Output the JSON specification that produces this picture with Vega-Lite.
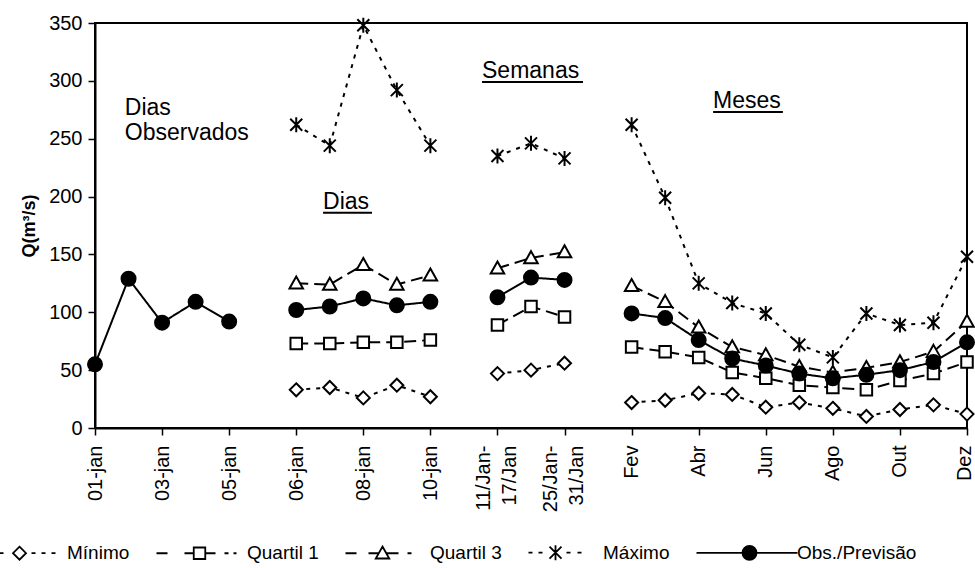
{
  "$schema": "https://vega.github.io/schema/vega-lite/v6.json",
  "width": 872,
  "height": 405,
  "autosize": {"type": "none"},
  "padding": {"left": 95, "top": 23, "right": 8, "bottom": 140},
  "background": "white",
  "config": {
    "font": "Liberation Sans",
    "view": {"stroke": "black", "strokeWidth": 2},
    "axis": {"grid": false, "domainColor": "black", "domainWidth": 2, "tickColor": "black", "tickWidth": 1.5, "labelColor": "black", "titleColor": "black", "labelFont": "Liberation Sans", "titleFont": "Liberation Sans"}
  },
  "datasets": {
    "vazoes": [
      {"periodo": "01-jan", "ordem": 0, "grupo": "Observados", "serie": "Obs./Previsão", "vazao": 55},
      {"periodo": "02-jan", "ordem": 1, "grupo": "Observados", "serie": "Obs./Previsão", "vazao": 129},
      {"periodo": "03-jan", "ordem": 2, "grupo": "Observados", "serie": "Obs./Previsão", "vazao": 91},
      {"periodo": "04-jan", "ordem": 3, "grupo": "Observados", "serie": "Obs./Previsão", "vazao": 109},
      {"periodo": "05-jan", "ordem": 4, "grupo": "Observados", "serie": "Obs./Previsão", "vazao": 92},

      {"periodo": "06-jan", "ordem": 6, "grupo": "Dias", "serie": "Mínimo", "vazao": 33},
      {"periodo": "07-jan", "ordem": 7, "grupo": "Dias", "serie": "Mínimo", "vazao": 35},
      {"periodo": "08-jan", "ordem": 8, "grupo": "Dias", "serie": "Mínimo", "vazao": 26},
      {"periodo": "09-jan", "ordem": 9, "grupo": "Dias", "serie": "Mínimo", "vazao": 37},
      {"periodo": "10-jan", "ordem": 10, "grupo": "Dias", "serie": "Mínimo", "vazao": 27},
      {"periodo": "06-jan", "ordem": 6, "grupo": "Dias", "serie": "Quartil 1", "vazao": 73},
      {"periodo": "07-jan", "ordem": 7, "grupo": "Dias", "serie": "Quartil 1", "vazao": 73},
      {"periodo": "08-jan", "ordem": 8, "grupo": "Dias", "serie": "Quartil 1", "vazao": 74},
      {"periodo": "09-jan", "ordem": 9, "grupo": "Dias", "serie": "Quartil 1", "vazao": 74},
      {"periodo": "10-jan", "ordem": 10, "grupo": "Dias", "serie": "Quartil 1", "vazao": 76},
      {"periodo": "06-jan", "ordem": 6, "grupo": "Dias", "serie": "Quartil 3", "vazao": 125},
      {"periodo": "07-jan", "ordem": 7, "grupo": "Dias", "serie": "Quartil 3", "vazao": 124},
      {"periodo": "08-jan", "ordem": 8, "grupo": "Dias", "serie": "Quartil 3", "vazao": 141},
      {"periodo": "09-jan", "ordem": 9, "grupo": "Dias", "serie": "Quartil 3", "vazao": 124},
      {"periodo": "10-jan", "ordem": 10, "grupo": "Dias", "serie": "Quartil 3", "vazao": 132},
      {"periodo": "06-jan", "ordem": 6, "grupo": "Dias", "serie": "Máximo", "vazao": 262},
      {"periodo": "07-jan", "ordem": 7, "grupo": "Dias", "serie": "Máximo", "vazao": 244},
      {"periodo": "08-jan", "ordem": 8, "grupo": "Dias", "serie": "Máximo", "vazao": 348},
      {"periodo": "09-jan", "ordem": 9, "grupo": "Dias", "serie": "Máximo", "vazao": 292},
      {"periodo": "10-jan", "ordem": 10, "grupo": "Dias", "serie": "Máximo", "vazao": 244},
      {"periodo": "06-jan", "ordem": 6, "grupo": "Dias", "serie": "Obs./Previsão", "vazao": 102},
      {"periodo": "07-jan", "ordem": 7, "grupo": "Dias", "serie": "Obs./Previsão", "vazao": 105},
      {"periodo": "08-jan", "ordem": 8, "grupo": "Dias", "serie": "Obs./Previsão", "vazao": 112},
      {"periodo": "09-jan", "ordem": 9, "grupo": "Dias", "serie": "Obs./Previsão", "vazao": 106},
      {"periodo": "10-jan", "ordem": 10, "grupo": "Dias", "serie": "Obs./Previsão", "vazao": 109},

      {"periodo": "11/Jan-17/Jan", "ordem": 12, "grupo": "Semanas", "serie": "Mínimo", "vazao": 47},
      {"periodo": "18/Jan-24/Jan", "ordem": 13, "grupo": "Semanas", "serie": "Mínimo", "vazao": 50},
      {"periodo": "25/Jan-31/Jan", "ordem": 14, "grupo": "Semanas", "serie": "Mínimo", "vazao": 56},
      {"periodo": "11/Jan-17/Jan", "ordem": 12, "grupo": "Semanas", "serie": "Quartil 1", "vazao": 89},
      {"periodo": "18/Jan-24/Jan", "ordem": 13, "grupo": "Semanas", "serie": "Quartil 1", "vazao": 105},
      {"periodo": "25/Jan-31/Jan", "ordem": 14, "grupo": "Semanas", "serie": "Quartil 1", "vazao": 96},
      {"periodo": "11/Jan-17/Jan", "ordem": 12, "grupo": "Semanas", "serie": "Quartil 3", "vazao": 138},
      {"periodo": "18/Jan-24/Jan", "ordem": 13, "grupo": "Semanas", "serie": "Quartil 3", "vazao": 147},
      {"periodo": "25/Jan-31/Jan", "ordem": 14, "grupo": "Semanas", "serie": "Quartil 3", "vazao": 152},
      {"periodo": "11/Jan-17/Jan", "ordem": 12, "grupo": "Semanas", "serie": "Máximo", "vazao": 235},
      {"periodo": "18/Jan-24/Jan", "ordem": 13, "grupo": "Semanas", "serie": "Máximo", "vazao": 246},
      {"periodo": "25/Jan-31/Jan", "ordem": 14, "grupo": "Semanas", "serie": "Máximo", "vazao": 233},
      {"periodo": "11/Jan-17/Jan", "ordem": 12, "grupo": "Semanas", "serie": "Obs./Previsão", "vazao": 113},
      {"periodo": "18/Jan-24/Jan", "ordem": 13, "grupo": "Semanas", "serie": "Obs./Previsão", "vazao": 130},
      {"periodo": "25/Jan-31/Jan", "ordem": 14, "grupo": "Semanas", "serie": "Obs./Previsão", "vazao": 128},

      {"periodo": "Fev", "ordem": 16, "grupo": "Meses", "serie": "Mínimo", "vazao": 22},
      {"periodo": "Mar", "ordem": 17, "grupo": "Meses", "serie": "Mínimo", "vazao": 24},
      {"periodo": "Abr", "ordem": 18, "grupo": "Meses", "serie": "Mínimo", "vazao": 30},
      {"periodo": "Mai", "ordem": 19, "grupo": "Meses", "serie": "Mínimo", "vazao": 29},
      {"periodo": "Jun", "ordem": 20, "grupo": "Meses", "serie": "Mínimo", "vazao": 18},
      {"periodo": "Jul", "ordem": 21, "grupo": "Meses", "serie": "Mínimo", "vazao": 22},
      {"periodo": "Ago", "ordem": 22, "grupo": "Meses", "serie": "Mínimo", "vazao": 17},
      {"periodo": "Set", "ordem": 23, "grupo": "Meses", "serie": "Mínimo", "vazao": 10},
      {"periodo": "Out", "ordem": 24, "grupo": "Meses", "serie": "Mínimo", "vazao": 16},
      {"periodo": "Nov", "ordem": 25, "grupo": "Meses", "serie": "Mínimo", "vazao": 20},
      {"periodo": "Dez", "ordem": 26, "grupo": "Meses", "serie": "Mínimo", "vazao": 12},
      {"periodo": "Fev", "ordem": 16, "grupo": "Meses", "serie": "Quartil 1", "vazao": 70},
      {"periodo": "Mar", "ordem": 17, "grupo": "Meses", "serie": "Quartil 1", "vazao": 66},
      {"periodo": "Abr", "ordem": 18, "grupo": "Meses", "serie": "Quartil 1", "vazao": 61},
      {"periodo": "Mai", "ordem": 19, "grupo": "Meses", "serie": "Quartil 1", "vazao": 48},
      {"periodo": "Jun", "ordem": 20, "grupo": "Meses", "serie": "Quartil 1", "vazao": 43},
      {"periodo": "Jul", "ordem": 21, "grupo": "Meses", "serie": "Quartil 1", "vazao": 37},
      {"periodo": "Ago", "ordem": 22, "grupo": "Meses", "serie": "Quartil 1", "vazao": 35},
      {"periodo": "Set", "ordem": 23, "grupo": "Meses", "serie": "Quartil 1", "vazao": 33},
      {"periodo": "Out", "ordem": 24, "grupo": "Meses", "serie": "Quartil 1", "vazao": 41},
      {"periodo": "Nov", "ordem": 25, "grupo": "Meses", "serie": "Quartil 1", "vazao": 47},
      {"periodo": "Dez", "ordem": 26, "grupo": "Meses", "serie": "Quartil 1", "vazao": 57},
      {"periodo": "Fev", "ordem": 16, "grupo": "Meses", "serie": "Quartil 3", "vazao": 123},
      {"periodo": "Mar", "ordem": 17, "grupo": "Meses", "serie": "Quartil 3", "vazao": 109},
      {"periodo": "Abr", "ordem": 18, "grupo": "Meses", "serie": "Quartil 3", "vazao": 87},
      {"periodo": "Mai", "ordem": 19, "grupo": "Meses", "serie": "Quartil 3", "vazao": 70},
      {"periodo": "Jun", "ordem": 20, "grupo": "Meses", "serie": "Quartil 3", "vazao": 63},
      {"periodo": "Jul", "ordem": 21, "grupo": "Meses", "serie": "Quartil 3", "vazao": 53},
      {"periodo": "Ago", "ordem": 22, "grupo": "Meses", "serie": "Quartil 3", "vazao": 48},
      {"periodo": "Set", "ordem": 23, "grupo": "Meses", "serie": "Quartil 3", "vazao": 52},
      {"periodo": "Out", "ordem": 24, "grupo": "Meses", "serie": "Quartil 3", "vazao": 57},
      {"periodo": "Nov", "ordem": 25, "grupo": "Meses", "serie": "Quartil 3", "vazao": 66},
      {"periodo": "Dez", "ordem": 26, "grupo": "Meses", "serie": "Quartil 3", "vazao": 92},
      {"periodo": "Fev", "ordem": 16, "grupo": "Meses", "serie": "Máximo", "vazao": 262},
      {"periodo": "Mar", "ordem": 17, "grupo": "Meses", "serie": "Máximo", "vazao": 199},
      {"periodo": "Abr", "ordem": 18, "grupo": "Meses", "serie": "Máximo", "vazao": 125},
      {"periodo": "Mai", "ordem": 19, "grupo": "Meses", "serie": "Máximo", "vazao": 108},
      {"periodo": "Jun", "ordem": 20, "grupo": "Meses", "serie": "Máximo", "vazao": 99},
      {"periodo": "Jul", "ordem": 21, "grupo": "Meses", "serie": "Máximo", "vazao": 72},
      {"periodo": "Ago", "ordem": 22, "grupo": "Meses", "serie": "Máximo", "vazao": 61},
      {"periodo": "Set", "ordem": 23, "grupo": "Meses", "serie": "Máximo", "vazao": 99},
      {"periodo": "Out", "ordem": 24, "grupo": "Meses", "serie": "Máximo", "vazao": 89},
      {"periodo": "Nov", "ordem": 25, "grupo": "Meses", "serie": "Máximo", "vazao": 91},
      {"periodo": "Dez", "ordem": 26, "grupo": "Meses", "serie": "Máximo", "vazao": 148},
      {"periodo": "Fev", "ordem": 16, "grupo": "Meses", "serie": "Obs./Previsão", "vazao": 99},
      {"periodo": "Mar", "ordem": 17, "grupo": "Meses", "serie": "Obs./Previsão", "vazao": 95},
      {"periodo": "Abr", "ordem": 18, "grupo": "Meses", "serie": "Obs./Previsão", "vazao": 76},
      {"periodo": "Mai", "ordem": 19, "grupo": "Meses", "serie": "Obs./Previsão", "vazao": 60},
      {"periodo": "Jun", "ordem": 20, "grupo": "Meses", "serie": "Obs./Previsão", "vazao": 54},
      {"periodo": "Jul", "ordem": 21, "grupo": "Meses", "serie": "Obs./Previsão", "vazao": 47},
      {"periodo": "Ago", "ordem": 22, "grupo": "Meses", "serie": "Obs./Previsão", "vazao": 43},
      {"periodo": "Set", "ordem": 23, "grupo": "Meses", "serie": "Obs./Previsão", "vazao": 46},
      {"periodo": "Out", "ordem": 24, "grupo": "Meses", "serie": "Obs./Previsão", "vazao": 50},
      {"periodo": "Nov", "ordem": 25, "grupo": "Meses", "serie": "Obs./Previsão", "vazao": 57},
      {"periodo": "Dez", "ordem": 26, "grupo": "Meses", "serie": "Obs./Previsão", "vazao": 74}
    ],
    "notas": [
      {"texto": "Dias\nObservados", "x": 0.89, "y": 270.5},
      {"texto": "Dias", "x": 6.8, "y": 189, "x_fim": 8.26, "y_sub": 186},
      {"texto": "Semanas", "x": 11.54, "y": 302.5, "x_fim": 14.55, "y_sub": 299},
      {"texto": "Meses", "x": 18.43, "y": 276.5, "x_fim": 20.51, "y_sub": 273}
    ]
  },
  "layer": [
    {
      "data": {"name": "vazoes"},
      "mark": {"type": "line", "color": "black"},
      "encoding": {
        "x": {
          "field": "ordem", "type": "quantitative",
          "scale": {"domain": [0, 26], "nice": false, "zero": false},
          "axis": {
            "title": null,
            "values": [0,1,2,3,4,5,6,7,8,9,10,11,12,13,14,15,16,17,18,19,20,21,22,23,24,25,26],
            "labelExpr": "['01-jan','','03-jan','','05-jan','','06-jan','','08-jan','','10-jan','',['11/Jan-','17/Jan'],'',['25/Jan-','31/Jan'],'','Fev','','Abr','','Jun','','Ago','','Out','','Dez'][datum.value]",
            "labelAngle": -90,
            "labelFontSize": 20,
            "labelLineHeight": 26,
            "labelPadding": 10,
            "labelOffset": {"condition": [{"test": "datum.value == 12 || datum.value == 14", "value": -14}, {"test": "datum.value == 26", "value": -3}], "value": 0},
            "tickSize": 7,
            "labelOverlap": false,
            "labelFlush": false,
            "labelBound": false
          }
        },
        "y": {
          "field": "vazao", "type": "quantitative",
          "scale": {"domain": [0, 350], "nice": false},
          "axis": {
            "title": "Q(m³/s)",
            "values": [0, 50, 100, 150, 200, 250, 300, 350],
            "labelFontSize": 20,
            "titleFontSize": 18,
            "titleFontWeight": "bold",
            "tickSize": 7,
            "labelPadding": 6,
            "titlePadding": 10
          }
        },
        "detail": {"field": "grupo"},
        "strokeDash": {
          "field": "serie", "type": "nominal",
          "scale": {"domain": ["Mínimo", "Quartil 1", "Quartil 3", "Máximo", "Obs./Previsão"], "range": [[4, 6], [12, 6], [12, 6], [4, 6], [1, 0]]},
          "legend": null
        },
        "strokeWidth": {
          "field": "serie", "type": "ordinal",
          "scale": {"domain": ["Mínimo", "Quartil 1", "Quartil 3", "Máximo", "Obs./Previsão"], "range": [2, 2, 2, 2, 3]},
          "legend": null
        }
      }
    },
    {
      "data": {"name": "vazoes"},
      "mark": {"type": "point", "filled": true, "stroke": "black", "size": 100, "opacity": 1},
      "encoding": {
        "x": {"field": "ordem", "type": "quantitative"},
        "y": {"field": "vazao", "type": "quantitative"},
        "shape": {
          "field": "serie", "type": "nominal",
          "scale": {
            "domain": ["Mínimo", "Quartil 1", "Quartil 3", "Máximo", "Obs./Previsão"],
            "range": [
              "M0,-1.3L1.3,0L0,1.3L-1.3,0Z",
              "M-1.15,-1.15L1.15,-1.15L1.15,1.15L-1.15,1.15Z",
              "M0,-1.35L1.35,1.05L-1.35,1.05Z",
              "M-1.2,-1.2L1.2,1.2M-1.2,1.2L1.2,-1.2M0,-1.5L0,1.5",
              "M1.4,0A1.4,1.4,0,1,1,-1.4,0A1.4,1.4,0,1,1,1.4,0Z"
            ]
          },
          "legend": null
        },
        "fill": {
          "field": "serie", "type": "nominal",
          "scale": {"domain": ["Mínimo", "Quartil 1", "Quartil 3", "Máximo", "Obs./Previsão"], "range": ["white", "white", "white", "white", "black"]},
          "legend": null
        },
        "strokeWidth": {
          "field": "serie", "type": "ordinal",
          "scale": {"domain": ["Mínimo", "Quartil 1", "Quartil 3", "Máximo", "Obs./Previsão"], "range": [2, 2, 2, 2.8, 2]},
          "legend": null
        }
      }
    },
    {
      "data": {"name": "notas"},
      "transform": [{"filter": "isValid(datum.x_fim)"}],
      "mark": {"type": "rule", "color": "black", "strokeWidth": 2},
      "encoding": {
        "x": {"field": "x", "type": "quantitative"},
        "x2": {"field": "x_fim"},
        "y": {"field": "y_sub", "type": "quantitative"}
      }
    },
    {
      "data": {"name": "notas"},
      "mark": {"type": "text", "align": "left", "baseline": "alphabetic", "fontSize": 23, "lineBreak": "\n", "lineHeight": 25, "color": "black", "font": "Liberation Sans"},
      "encoding": {
        "x": {"field": "x", "type": "quantitative"},
        "y": {"field": "y", "type": "quantitative"},
        "text": {"field": "texto"}
      }
    },
    {
      "data": {"name": "vazoes"},
      "transform": [{"filter": "false"}],
      "mark": {"type": "point", "filled": true, "strokeWidth": 1.8, "size": 100, "opacity": 1},
      "encoding": {
        "shape": {
          "field": "serie", "type": "nominal",
          "scale": {
            "domain": ["Mínimo", "Quartil 1", "Quartil 3", "Máximo", "Obs./Previsão"],
            "range": [
              "M-4,0L-3.2,0M0,-1.3L1.3,0L0,1.3L-1.3,0ZM2.4,0L3.2,0M4.4,0L5.2,0M6.4,0L7.2,0",
              "M-8.6,0L-6.4,0M-3,0L-1.15,0M-1.15,-1.15L1.15,-1.15L1.15,1.15L-1.15,1.15ZM1.15,0L3.2,0M5,0L5.8,0M6.8,0L7.4,0",
              "M-7.4,0L-5.2,0M-2.8,0L-0.8,0M0,-1.35L1.35,1.05L-1.35,1.05ZM0.8,0L3.2,0M5,0L5.8,0",
              "M-5.4,0L-4.6,0M-3.4,0L-2.6,0M-1.2,-1.2L1.2,1.2M-1.2,1.2L1.2,-1.2M0,-1.5L0,1.5M2.2,0L3,0M4.4,0L5.2,0",
              "M-10.6,0L-1.4,0M1.4,0L9.6,0M1.4,0A1.4,1.4,0,1,1,-1.4,0A1.4,1.4,0,1,1,1.4,0Z"
            ]
          },
          "legend": {
            "title": null, "orient": "none", "legendX": -85, "legendY": 520, "direction": "horizontal",
            "symbolSize": 100, "symbolStrokeColor": "black", "symbolStrokeWidth": 1.8, "symbolOpacity": 1,
            "labelFontSize": 19, "labelFont": "Liberation Sans", "labelColor": "black",
            "labelOffset": 38, "columnPadding": 22, "padding": 0, "labelLimit": 0
          }
        },
        "fill": {
          "field": "serie", "type": "nominal",
          "scale": {"domain": ["Mínimo", "Quartil 1", "Quartil 3", "Máximo", "Obs./Previsão"], "range": ["white", "white", "white", "white", "black"]},
          "legend": {
            "title": null, "orient": "none", "legendX": -85, "legendY": 520, "direction": "horizontal",
            "symbolSize": 100, "symbolStrokeColor": "black", "symbolStrokeWidth": 1.8, "symbolOpacity": 1,
            "labelFontSize": 19, "labelFont": "Liberation Sans", "labelColor": "black",
            "labelOffset": 38, "columnPadding": 22, "padding": 0, "labelLimit": 0
          }
        },
        "stroke": {
          "field": "serie", "type": "nominal",
          "scale": {"domain": ["Mínimo", "Quartil 1", "Quartil 3", "Máximo", "Obs./Previsão"], "range": ["black", "black", "black", "black", "black"]},
          "legend": {
            "title": null, "orient": "none", "legendX": -85, "legendY": 520, "direction": "horizontal",
            "symbolSize": 100, "symbolStrokeColor": "black", "symbolStrokeWidth": 1.8, "symbolOpacity": 1,
            "labelFontSize": 19, "labelFont": "Liberation Sans", "labelColor": "black",
            "labelOffset": 38, "columnPadding": 22, "padding": 0, "labelLimit": 0
          }
        }
      }
    }
  ],
  "resolve": {"scale": {"shape": "independent", "fill": "independent", "stroke": "independent"}}
}
